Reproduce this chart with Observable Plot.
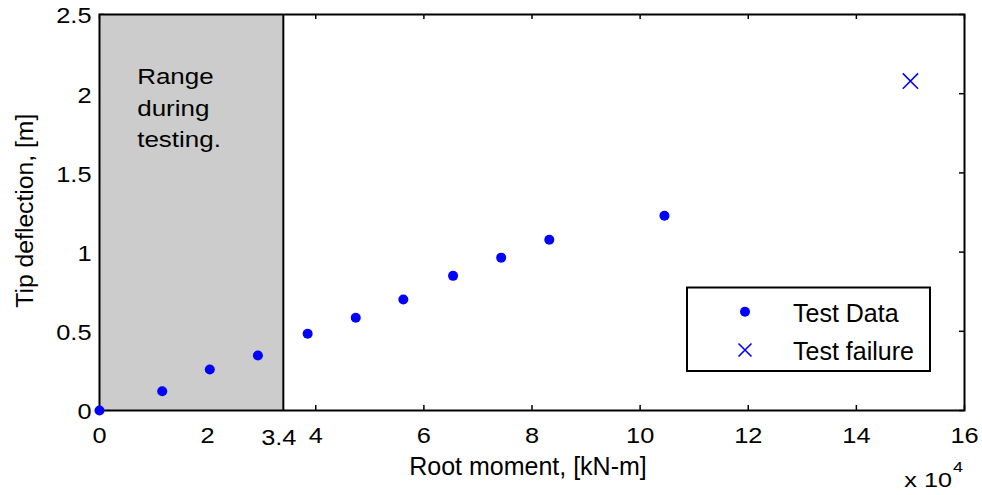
<!DOCTYPE html>
<html>
<head>
<meta charset="utf-8">
<script src="https://cdn.jsdelivr.net/npm/d3@7"></script>
<script src="https://cdn.jsdelivr.net/npm/@observablehq/plot@0.6"></script>
<style>
  html, body { margin: 0; padding: 0; background: #fff; }
  #chart { position: relative; width: 982px; height: 495px; }
  svg { font-family: "Liberation Sans", Arial, sans-serif; }
</style>
</head>
<body>
<div id="chart"></div>
<script>
// Root moment (x 10^4 kN-m) and tip deflection (m)
const testMoment = [0, 1.16, 2.04, 2.93, 3.85, 4.74, 5.62, 6.54, 7.43, 8.32, 10.45];
const testDeflection = [0, 0.122, 0.259, 0.347, 0.485, 0.586, 0.701, 0.850, 0.965, 1.078, 1.230];
const failureMoment = [15.0];
const failureDeflection = [2.08];
const rangeLimit = 3.4;
const xTicks = [0, 2, 4, 6, 8, 10, 12, 14, 16];
const yTicks = [0, 0.5, 1, 1.5, 2, 2.5];
const yTickLabels = ["0", "0.5", "1", "1.5", "2", "2.5"];
const rangeText = ["Range", "during", "testing."];
const legendLabels = ["Test Data", "Test failure"];
const xTitle = "Root moment, [kN-m]";
const yTitle = "Tip deflection, [m]";

const testData = testMoment.map((x, i) => ({x, y: testDeflection[i]}));
const failureData = failureMoment.map((x, i) => ({x, y: failureDeflection[i]}));

const W = 982, H = 495;
const mL = 99, mR = 18, mT = 14, mB = 85;
const plotH = H - mT - mB, plotW = W - mL - mR;
const tick = 5;
const fs = 21.5;
const stretch = 1.18;

const chart = Plot.plot({
  width: W, height: H,
  marginLeft: mL, marginRight: mR, marginTop: mT, marginBottom: mB,
  style: {fontFamily: "Liberation Sans, Arial, sans-serif", fontSize: fs + "px", background: "#fff", color: "#000"},
  x: {domain: [0, 16]},
  y: {domain: [0, 2.5]},
  marks: [
    // inward ticks
    Plot.ruleX(xTicks, {insetTop: plotH - tick, stroke: "#000", strokeWidth: 1.5}),
    Plot.ruleX(xTicks, {insetBottom: plotH - tick, stroke: "#000", strokeWidth: 1.5}),
    Plot.ruleY(yTicks, {insetRight: plotW - tick, stroke: "#000", strokeWidth: 1.5}),
    Plot.ruleY(yTicks, {insetLeft: plotW - tick, stroke: "#000", strokeWidth: 1.5}),
    // shaded testing range
    Plot.rectX([{x1: 0, x2: rangeLimit}], {x1: "x1", x2: "x2", fill: "#cccccc"}),
    Plot.ruleX([rangeLimit], {stroke: "#000", strokeWidth: 2}),
    Plot.frame({stroke: "#000", strokeWidth: 2}),
    Plot.text([rangeText.join("\n")], {x: 0, y: 2.5, textAnchor: "start", lineAnchor: "top", lineHeight: 1.423, dx: 37.7, dy: 47.7, fontSize: 22, fill: "#000"}),
    // axes
    Plot.axisX({ticks: xTicks, tickSize: 0, tickPadding: 17, label: null, tickFormat: d => String(d), fontSize: fs}),
    Plot.axisY({ticks: yTicks, tickSize: 0, tickPadding: 8, dy: 2, label: null, tickFormat: (d, i) => yTickLabels[i], fontSize: fs}),
    Plot.text([rangeLimit], {x: d => d, y: 0, text: d => String(d), dx: -4.5, dy: 27.5, fontSize: fs, fill: "#000"}),
    // data
    Plot.dot(testData, {x: "x", y: "y", r: 5, fill: "#0000ff", stroke: "none"}),
    Plot.dot(failureData, {x: "x", y: "y", r: 7, symbol: "times", stroke: "#0000ff", strokeWidth: 1.5})
  ]
});

const svg = d3.select(chart);
// horizontally stretched tick labels and in-plot text (as in the reference)
svg.selectAll('g[aria-label="x-axis tick label"] text, g[aria-label="y-axis tick label"] text, g[aria-label="text"] text')
  .each(function () {
    const t = this.getAttribute("transform") || "";
    this.setAttribute("transform", t + ` scale(${stretch},1)`);
  });

// axis titles
svg.append("text").attr("transform", "translate(528,474.5)").attr("text-anchor", "middle")
  .attr("font-size", 25).attr("fill", "#000").text(xTitle);
svg.append("text").attr("transform", "translate(33,210.7) rotate(-90)").attr("text-anchor", "middle")
  .attr("font-size", 24.7).attr("fill", "#000").text(yTitle);
const mult = svg.append("text").attr("transform", "translate(904.3,486.7) scale(1.2,1)")
  .attr("text-anchor", "start").attr("font-size", 21).attr("fill", "#000");
mult.append("tspan").text("x 10");
mult.append("tspan").attr("dy", -15).attr("dx", 1).attr("font-size", 15).text("4");

// legend
const lg = svg.append("g");
lg.append("rect").attr("x", 687).attr("y", 287.5).attr("width", 243).attr("height", 83.5)
  .attr("fill", "#fff").attr("stroke", "#000").attr("stroke-width", 2);
lg.append("circle").attr("cx", 745).attr("cy", 311.7).attr("r", 5).attr("fill", "#0000ff");
lg.append("path").attr("d", "M738.5,343.5L751.5,356.5M738.5,356.5L751.5,343.5").attr("stroke", "#0000ff").attr("stroke-width", 1.6);
lg.append("text").attr("x", 793).attr("y", 321.5).attr("text-anchor", "start").attr("font-size", 25).attr("fill", "#000").text(legendLabels[0]);
lg.append("text").attr("x", 793).attr("y", 360).attr("text-anchor", "start").attr("font-size", 25).attr("fill", "#000").text(legendLabels[1]);

document.getElementById("chart").appendChild(chart);
</script>
</body>
</html>
